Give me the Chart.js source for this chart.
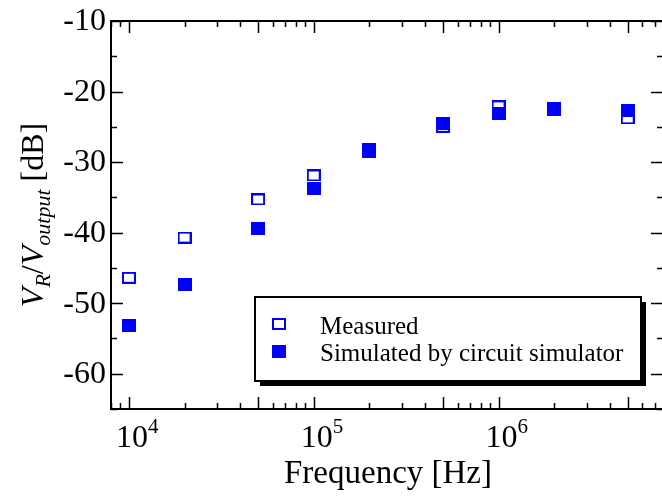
<!DOCTYPE html>
<html>
<head>
<meta charset="utf-8">
<script src="https://cdn.jsdelivr.net/npm/chart.js@4"></script>
<style>
  html, body { margin: 0; padding: 0; background: #fff; overflow: hidden; }
  #wrap { width: 668px; height: 498px; }
</style>
</head>
<body>
<div id="wrap"><canvas id="freqChart" width="668" height="498"></canvas></div>
<script>
// frequency points [Hz]
const freqs = [1e4, 2e4, 5e4, 1e5, 2e5, 5e5, 1e6, 2e6, 5e6];
// VR/Voutput [dB]
const measured = [-46.4, -40.7, -35.3, -31.9, -28.2, -25.0, -22.1, -22.4, -23.8];
const simulated = [-53.2, -47.3, -39.4, -33.7, -28.5, -24.5, -23.1, -22.6, -22.7];
const yTickLabels = [-10, -20, -30, -40, -50, -60];
const xTickExps = [4, 5, 6];
const seriesNames = ["Measured", "Simulated by circuit simulator"];

const serif = '"Times New Roman", "Liberation Serif", serif';
const blue = "#0000ff";

function makeMarker(filled, w, h) {
    const c = document.createElement("canvas");
    c.width = w;
    c.height = h;
    const g = c.getContext("2d");
    g.fillStyle = blue;
    g.fillRect(0, 0, w, h);
    if (!filled) {
        g.fillStyle = "#fff";
        g.fillRect(2, 2, w - 4, h - 4);
    }
    return c;
}
const openMark = makeMarker(false, 14, 12);
const fullMark = makeMarker(true, 14, 13);

function toPoints(vals) {
    return freqs.map((f, i) => ({x: f, y: vals[i]}));
}

const framePlugin = {
    id: "frame",
    beforeDatasetsDraw(chart) {
        const ctx = chart.ctx;
        const a = chart.chartArea;
        const xs = chart.scales.x;
        const ys = chart.scales.y;
        ctx.save();
        ctx.strokeStyle = "#000";
        ctx.lineWidth = 1.5;
        ctx.beginPath();
        // x ticks, inward on bottom and top
        for (let n = 3; n <= 6; n++) {
            for (let m = 1; m <= 9; m++) {
                const v = m * Math.pow(10, n);
                if (v < xs.min || v > xs.max) continue;
                const px = Math.round(xs.getPixelForValue(v)) + 0.5;
                const len = (m === 1 || m === 5) ? 12 : 6;
                ctx.moveTo(px, a.bottom);
                ctx.lineTo(px, a.bottom - len);
                ctx.moveTo(px, a.top);
                ctx.lineTo(px, a.top + len);
            }
        }
        // y ticks, inward on left and right
        for (let v = -65; v <= -10; v += 5) {
            const py = Math.round(ys.getPixelForValue(v)) + 0.5;
            const len = (v % 10 === 0) ? 12 : 6;
            ctx.moveTo(a.left, py);
            ctx.lineTo(a.left + len, py);
            ctx.moveTo(a.right, py);
            ctx.lineTo(a.right - len, py);
        }
        ctx.stroke();
        ctx.lineWidth = 2;
        ctx.strokeRect(a.left, a.top, a.right - a.left, a.bottom - a.top);
        ctx.restore();
    },
    afterDraw(chart) {
        const ctx = chart.ctx;
        const a = chart.chartArea;
        const xs = chart.scales.x;
        const ys = chart.scales.y;
        ctx.save();
        ctx.fillStyle = "#000";

        // y tick labels
        ctx.font = "32px " + serif;
        ctx.textAlign = "right";
        ctx.textBaseline = "middle";
        for (const v of yTickLabels) {
            ctx.fillText(String(v), 106, ys.getPixelForValue(v) + 1);
        }

        // x tick labels 10^n
        ctx.textBaseline = "alphabetic";
        for (const e of xTickExps) {
            const px = xs.getPixelForValue(Math.pow(10, e));
            ctx.font = "32px " + serif;
            ctx.textAlign = "center";
            ctx.fillText("10", px + 3, 447);
            const w = ctx.measureText("10").width;
            ctx.font = "21px " + serif;
            ctx.textAlign = "left";
            ctx.fillText(String(e), px + 3 + w / 2, 433);
        }

        // x title
        ctx.font = "33px " + serif;
        ctx.textAlign = "center";
        ctx.fillText("Frequency [Hz]", 388, 483);

        // y title with italics and subscripts
        const parts = [
            {t: "V", f: "italic 32px " + serif, dy: 0},
            {t: "R", f: "italic 22px " + serif, dy: 7},
            {t: "/", f: "32px " + serif, dy: 0},
            {t: "V", f: "italic 32px " + serif, dy: 0},
            {t: "output", f: "italic 22px " + serif, dy: 7},
            {t: " [dB]", f: "32px " + serif, dy: 0}
        ];
        let total = 0;
        for (const p of parts) {
            ctx.font = p.f;
            p.w = ctx.measureText(p.t).width;
            total += p.w;
        }
        ctx.translate(43, 215);
        ctx.rotate(-Math.PI / 2);
        ctx.textAlign = "left";
        let cx = -total / 2;
        for (const p of parts) {
            ctx.font = p.f;
            ctx.fillText(p.t, cx, p.dy);
            cx += p.w;
        }
        ctx.restore();

        // legend box with shadow
        ctx.save();
        const bx = 255, by = 297, bw = 386, bh = 84;
        ctx.fillStyle = "#000";
        ctx.fillRect(bx + 5, by + 5, bw, bh);
        ctx.fillStyle = "#fff";
        ctx.fillRect(bx, by, bw, bh);
        ctx.lineWidth = 2;
        ctx.strokeStyle = "#000";
        ctx.strokeRect(bx, by, bw, bh);
        const marks = [openMark, fullMark];
        const rows = [324, 351];
        ctx.font = "25px " + serif;
        ctx.fillStyle = "#000";
        ctx.textAlign = "left";
        ctx.textBaseline = "alphabetic";
        for (let i = 0; i < 2; i++) {
            const m = marks[i];
            ctx.drawImage(m, 272, Math.round(rows[i] - m.height / 2));
            ctx.fillText(seriesNames[i], 320, rows[i] + 10);
        }
        ctx.restore();
    }
};

const ctx = document.getElementById("freqChart").getContext("2d");

new Chart(ctx, {
    type: "scatter",
    data: {
        datasets: [{
            label: seriesNames[0],
            data: toPoints(measured),
            pointStyle: openMark,
            order: 2
        }, {
            label: seriesNames[1],
            data: toPoints(simulated),
            pointStyle: fullMark,
            order: 1
        }]
    },
    options: {
        responsive: false,
        animation: false,
        layout: {
            padding: {left: 111, right: 2, top: 21, bottom: 89}
        },
        plugins: {
            legend: {display: false},
            tooltip: {enabled: false}
        },
        scales: {
            x: {
                type: "logarithmic",
                min: 8000,
                max: 7.76e6,
                display: false
            },
            y: {
                type: "linear",
                min: -65,
                max: -10,
                display: false
            }
        }
    },
    plugins: [framePlugin]
});
</script>
</body>
</html>
